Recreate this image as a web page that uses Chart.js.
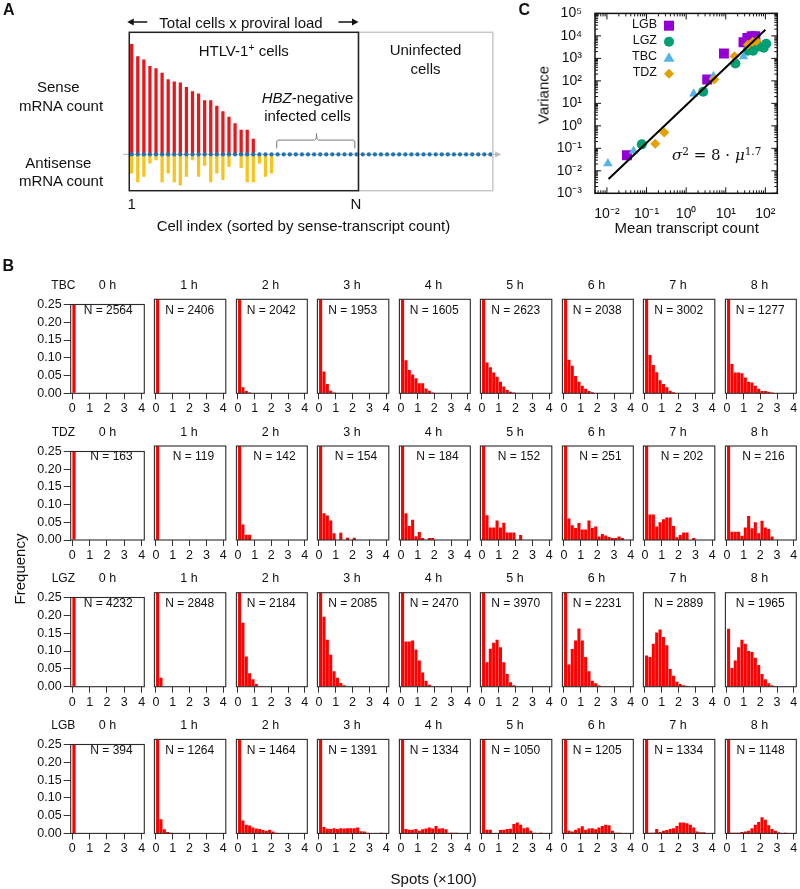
<!DOCTYPE html>
<html>
<head>
<meta charset="utf-8">
<script src="https://cdn.jsdelivr.net/npm/chart.js@4.4.0/dist/chart.umd.min.js"></script>
<style>
  html, body { margin: 0; padding: 0; background: #fff; }
  #fig { position: relative; width: 800px; height: 889px; overflow: hidden;
         font-family: Arial, "Liberation Sans", sans-serif; color: #111; }
  #fig canvas { position: absolute; }
  .t { position: absolute; white-space: nowrap; line-height: 1; transform: translate(-50%, -50%); }
  .t sup { font-size: 0.7em; vertical-align: 0.45em; line-height: 0; }
</style>
</head>
<body>
<div id="fig"></div>
<script>
// ---------- panel A: schematic counts (arbitrary units) ----------
const senseCounts = [100, 89, 86, 80, 78, 74, 68, 66, 65, 61, 57, 55, 49, 49, 44, 39, 34, 28, 22, 22, 14];
const antisenseCounts = [-17, -25, -20, -8, -5, -25, -17, -25, -28, -20, -5, -20, -10, -25, -17, -23, -11, 0, -12, -25, -25, -8, -20, -17];
const infectedCells = 37;
const allCells = 60;

// ---------- panel B: histograms ----------
const lines = ['TBC', 'TDZ', 'LGZ', 'LGB'];
const hours = ['0 h', '1 h', '2 h', '3 h', '4 h', '5 h', '6 h', '7 h', '8 h'];
const binCenters = [0.1, 0.3, 0.5, 0.7, 0.9, 1.1, 1.3, 1.5, 1.7, 1.9, 2.1, 2.3, 2.5, 2.7, 2.9, 3.1, 3.3, 3.5, 3.7, 3.9];
const spotTicks = [0, 1, 2, 3, 4];
const freqTicks = [0, 0.05, 0.10, 0.15, 0.20, 0.25];

const nTBC = [2564, 2406, 2042, 1953, 1605, 2623, 2038, 3002, 1277];
const nTDZ = [163, 119, 142, 154, 184, 152, 251, 202, 216];
const nLGZ = [4232, 2848, 2184, 2085, 2470, 3970, 2231, 2889, 1965];
const nLGB = [394, 1264, 1464, 1391, 1334, 1050, 1205, 1334, 1148];

const histTBC = [
  [0.99],
  [0.98],
  [0.97, 0.016, 0.006, 0.002],
  [0.90, 0.058, 0.025, 0.007, 0.002],
  [0.69, 0.088, 0.062, 0.050, 0.040, 0.027, 0.027, 0.013, 0.007, 0.002],
  [0.68, 0.082, 0.069, 0.055, 0.044, 0.031, 0.018, 0.009, 0.004, 0.002],
  [0.72, 0.089, 0.073, 0.046, 0.031, 0.020, 0.012, 0.006, 0.003],
  [0.68, 0.102, 0.075, 0.056, 0.035, 0.025, 0.016, 0.007, 0.003],
  [0.60, 0.078, 0.055, 0.055, 0.053, 0.042, 0.031, 0.029, 0.020, 0.012, 0.006, 0.006, 0.004, 0.002]
];
const histTDZ = [
  [0.99],
  [0.99],
  [0.93, 0.041, 0.014, 0.014],
  [0.76, 0.071, 0.065, 0.052, 0.018, 0, 0.019, 0, 0.006, 0, 0.006],
  [0.77, 0.071, 0.037, 0.054, 0.010, 0.021, 0.005, 0, 0.005, 0.005],
  [0.70, 0.066, 0.033, 0.033, 0.052, 0.033, 0.046, 0.020, 0.020, 0.020, 0, 0.013],
  [0.60, 0.057, 0.039, 0.032, 0.045, 0.028, 0.028, 0.052, 0.032, 0.036, 0.009, 0.016, 0.012, 0.008, 0.005, 0.005, 0.009, 0.005],
  [0.45, 0.068, 0.068, 0.036, 0.047, 0.055, 0.060, 0.060, 0.037, 0.007, 0.013, 0.020, 0.020, 0, 0.005],
  [0.60, 0.022, 0.022, 0.022, 0.011, 0.033, 0.064, 0.031, 0.047, 0.018, 0.051, 0.033, 0.029, 0.009]
];
const histLGZ = [
  [0.99],
  [0.97, 0.024],
  [0.72, 0.170, 0.080, 0.036, 0.020, 0.007],
  [0.52, 0.186, 0.125, 0.085, 0.041, 0.024, 0.010, 0.004],
  [0.40, 0.120, 0.120, 0.123, 0.099, 0.070, 0.038, 0.016, 0.005],
  [0.35, 0.065, 0.101, 0.117, 0.125, 0.105, 0.065, 0.034, 0.012, 0.004],
  [0.30, 0.059, 0.100, 0.123, 0.155, 0.123, 0.079, 0.041, 0.016, 0.009, 0.003],
  [0.083, 0.079, 0.114, 0.144, 0.152, 0.132, 0.110, 0.047, 0.029, 0.013, 0.007, 0.004, 0.002],
  [0.154, 0.050, 0.070, 0.105, 0.125, 0.114, 0.095, 0.092, 0.077, 0.058, 0.034, 0.020, 0.009, 0.004, 0.002]
];
const histLGB = [
  [0.99],
  [0.94, 0.0375, 0.011, 0.004, 0.002],
  [0.84, 0.034, 0.023, 0.021, 0.016, 0.013, 0.012, 0.009, 0.007, 0.010, 0.005, 0.002],
  [0.82, 0.017, 0.0125, 0.0115, 0.014, 0.0115, 0.014, 0.013, 0.014, 0.014, 0.014, 0.016, 0.006, 0.005, 0.002, 0, 0, 0, 0.002],
  [0.82, 0.012, 0.010, 0.010, 0.012, 0.007, 0.011, 0.013, 0.016, 0.013, 0.020, 0.013, 0.014, 0.011, 0.002, 0.002, 0.002],
  [0.79, 0.010, 0.010, 0.001, 0, 0.009, 0.010, 0.012, 0.0125, 0.025, 0.029, 0.023, 0.014, 0.016, 0.007, 0.002, 0, 0.002],
  [0.80, 0.007, 0.005, 0.010, 0.014, 0.019, 0.010, 0.013, 0.014, 0.011, 0.016, 0.020, 0.023, 0.022, 0.007, 0.002, 0.002],
  [0.80, 0.002, 0.002, 0.012, 0.004, 0.007, 0.009, 0.012, 0.014, 0.020, 0.029, 0.029, 0.027, 0.023, 0.016, 0.005, 0.003, 0.003],
  [0.80, 0.002, 0.002, 0.002, 0.004, 0.005, 0.007, 0.014, 0.023, 0.030, 0.043, 0.036, 0.022, 0.012, 0.007, 0.003, 0, 0.002]
];

// ---------- panel C: mean vs variance ----------
const meanLGB = [0.032, 3.4, 9, 28, 35, 45, 56];
const varLGB  = [0.049, 115, 1650, 5200, 8000, 9800, 9800];
const meanLGZ = [0.076, 2.7, 17.5, 36, 49, 68, 91, 105];
const varLGZ  = [0.15, 33, 590, 2200, 2200, 3400, 3000, 4500];
const meanTBC = [0.0106, 0.047, 1.55, 4.9, 28];
const varTBC  = [0.021, 0.076, 27, 160, 1200];
const meanTDZ = [0.166, 0.28, 5.1, 16.6, 36, 48, 60];
const varTDZ  = [0.16, 0.51, 115, 1230, 4000, 5500, 6000];
const fitMean = [0.011, 100];
const fitVar  = [0.0043, 18600];
const meanTicks = [0.01, 0.1, 1, 10, 100];
const varTicks = [1e-3, 1e-2, 1e-1, 1, 10, 100, 1e3, 1e4, 1e5];

// ---------- helpers ----------
const FONT = 'Arial, "Liberation Sans", sans-serif';
Chart.defaults.font.family = FONT;
Chart.defaults.color = '#111';
const fig = document.getElementById('fig');

function addCanvas(x, y, w, h) {
  const c = document.createElement('canvas');
  c.width = w; c.height = h;
  c.style.left = x + 'px'; c.style.top = y + 'px';
  c.style.width = w + 'px'; c.style.height = h + 'px';
  fig.appendChild(c);
  return c;
}
function label(html, x, y, css) {
  const d = document.createElement('div');
  d.className = 't';
  d.innerHTML = html;
  d.style.left = x + 'px'; d.style.top = y + 'px';
  if (css) d.style.cssText += css;
  fig.appendChild(d);
  return d;
}
const SUP = { '-': '\u207b', '0': '\u2070', '1': '\u00b9', '2': '\u00b2', '3': '\u00b3', '4': '\u2074',
              '5': '\u2075', '6': '\u2076', '7': '\u2077', '8': '\u2078', '9': '\u2079' };
const pow10Label = v => '10' + String(Math.round(Math.log10(v))).split('').map(c => SUP[c]).join('');

const framePlugin = {
  id: 'frame',
  afterDatasetsDraw(chart, args, opts) {
    const { ctx, chartArea: a } = chart;
    ctx.save();
    ctx.strokeStyle = opts.color || '#222';
    ctx.lineWidth = opts.width || 1;
    ctx.strokeRect(a.left, a.top, a.right - a.left, a.bottom - a.top);
    ctx.restore();
  }
};

// ---------- panel A ----------
(function () {
  const W = 510, H = 240;
  const cv = addCanvas(0, 0, W, H);
  const unitX = 6.08, x0 = 131.7, xmin = -1.6, xmax = 61;
  const left = x0 + xmin * unitX, right = x0 + xmax * unitX;

  function arrowHead(ctx, x, y, dir, len, half) {
    ctx.beginPath();
    ctx.moveTo(x, y);
    ctx.lineTo(x - dir * len, y - half);
    ctx.lineTo(x - dir * len, y + half);
    ctx.closePath();
    ctx.fill();
  }

  const schematic = {
    id: 'schematic',
    beforeDatasetsDraw(chart) {
      const { ctx, scales: { x, y } } = chart;
      const py = y.getPixelForValue(0);
      const xa = x.getPixelForValue(-1.4), xb = x.getPixelForValue(60.6);
      ctx.save();
      ctx.strokeStyle = '#bdbdbd'; ctx.fillStyle = '#bdbdbd'; ctx.lineWidth = 1.2;
      ctx.beginPath(); ctx.moveTo(xa, py); ctx.lineTo(xb - 4, py); ctx.stroke();
      arrowHead(ctx, xb + 1, py, 1, 6, 3.2);
      ctx.restore();
    },
    afterDatasetsDraw(chart) {
      const { ctx, chartArea: a, scales: { x, y } } = chart;
      const bl = x.getPixelForValue(-0.4), br = x.getPixelForValue(infectedCells + 0.3);
      const gr = x.getPixelForValue(allCells - 0.6);
      ctx.save();
      ctx.lineWidth = 1.5;
      ctx.strokeStyle = '#c8c8c8';
      ctx.strokeRect(br, a.top, gr - br, a.bottom - a.top);
      ctx.strokeStyle = '#222';
      ctx.strokeRect(bl, a.top, br - bl, a.bottom - a.top);

      // top double arrow
      const ty = a.top - 10.3;
      ctx.fillStyle = '#111'; ctx.strokeStyle = '#111'; ctx.lineWidth = 1.5;
      ctx.beginPath(); ctx.moveTo(bl + 2, ty); ctx.lineTo(bl + 18, ty); ctx.stroke();
      arrowHead(ctx, bl - 2, ty, -1, 6.5, 3.5);
      ctx.beginPath(); ctx.moveTo(br - 20, ty); ctx.lineTo(br - 4, ty); ctx.stroke();
      arrowHead(ctx, br, ty, 1, 6.5, 3.5);

      // brace over HBZ-negative cells
      const x1 = x.getPixelForValue(23.85), x2 = x.getPixelForValue(36.7), xm = x.getPixelForValue(30.4);
      const yb = y.getPixelForValue(5.5), yt = y.getPixelForValue(13), yp = y.getPixelForValue(19);
      ctx.strokeStyle = '#777'; ctx.lineWidth = 1;
      ctx.beginPath();
      ctx.moveTo(x1, yb); ctx.lineTo(x1, yt + 2); ctx.quadraticCurveTo(x1, yt, x1 + 2, yt);
      ctx.lineTo(xm - 2, yt); ctx.quadraticCurveTo(xm, yt, xm, yp);
      ctx.quadraticCurveTo(xm, yt, xm + 2, yt);
      ctx.lineTo(x2 - 2, yt); ctx.quadraticCurveTo(x2, yt, x2, yt + 2); ctx.lineTo(x2, yb);
      ctx.stroke();
      ctx.restore();
    }
  };

  const cells = Array.from({ length: allCells }, (_, i) => ({ x: i, y: 0 }));
  new Chart(cv, {
    type: 'bar',
    data: {
      datasets: [
        { type: 'scatter', data: cells, pointRadius: 2.1, pointBorderWidth: 0,
          backgroundColor: '#1f74b6', order: 0 },
        { data: senseCounts.map((v, i) => ({ x: i, y: v })), backgroundColor: '#e8171c',
          barThickness: 2.6, grouped: false, order: 1 },
        { data: antisenseCounts.map((v, i) => ({ x: i, y: v })), backgroundColor: '#f7c31c',
          barThickness: 2.6, grouped: false, order: 2 }
      ]
    },
    options: {
      responsive: false, animation: false, events: [],
      layout: { padding: { left: left, right: W - right, top: 32.3, bottom: H - 190.7 } },
      plugins: { legend: { display: false }, tooltip: { enabled: false } },
      scales: {
        x: { type: 'linear', display: false, min: xmin, max: xmax, offset: false, grid: { offset: false } },
        y: { display: false, min: -33, max: 111 }
      }
    },
    plugins: [schematic]
  });

  label('A', 8.8, 10.3, 'font-weight:bold;font-size:16px;');
  label('Total cells x proviral load', 241, 22, 'font-size:15px;');
  label('HTLV-1<sup>+</sup> cells', 243.7, 49.5, 'font-size:15px;');
  label('Uninfected', 425.5, 49.3, 'font-size:15px;');
  label('cells', 425.5, 68.3, 'font-size:15px;');
  label('Sense', 58.3, 86, 'font-size:15px;');
  label('mRNA count', 61, 105, 'font-size:15px;');
  label('Antisense', 58.3, 162, 'font-size:15px;');
  label('mRNA count', 61, 180.3, 'font-size:15px;');
  label('<i>HBZ</i>-negative', 307.5, 96.7, 'font-size:15px;');
  label('infected cells', 307.5, 115, 'font-size:15px;');
  label('1', 131.7, 202.7, 'font-size:15px;');
  label('N', 356, 202.7, 'font-size:15px;');
  label('Cell index (sorted by sense-transcript count)', 156.7, 225, 'font-size:15px;transform:translate(0,-50%);');
})();

// ---------- panel B ----------
function histChart(row, col, values, n) {
  const boxL = 70.7 + 81.5 * col, boxT = 299.3 + 146.7 * row, boxW = 73.6, boxH = 94;
  const first = col === 0;
  const left = Math.floor(boxL - (first ? 62 : 2));
  const top = Math.floor(boxT - 4);
  const W = Math.ceil(boxL - left + boxW + 6);
  const H = Math.ceil(boxT - top + boxH + 26);
  const cv = addCanvas(left, top, W, H);
  const freqs = binCenters.map((_, i) => values[i] || 0);
  new Chart(cv, {
    type: 'bar',
    data: {
      labels: binCenters,
      datasets: [{ data: freqs, backgroundColor: '#ff0000', borderWidth: 0,
                   barPercentage: 0.92, categoryPercentage: 1, clip: 0 }]
    },
    options: {
      responsive: false, animation: false, events: [],
      layout: { padding: { left: first ? 0 : boxL - left, top: boxT - top,
                           right: W - (boxL - left) - boxW, bottom: 0 } },
      plugins: { legend: { display: false }, tooltip: { enabled: false },
                 frame: { color: '#2a2a2a', width: 1.1 } },
      scales: {
        x: {
          type: 'linear', min: -0.09, max: 4.15, offset: false,
          afterBuildTicks: s => { s.ticks = spotTicks.map(v => ({ value: v })); },
          afterFit: s => { s.height = H - (boxT - top) - boxH; },
          grid: { offset: false, drawOnChartArea: false, tickLength: 6, color: '#333' },
          border: { display: false },
          ticks: { padding: 2, font: { size: 12.5 }, color: '#111', maxRotation: 0, autoSkip: false }
        },
        y: {
          display: first, min: 0, max: 0.25,
          afterBuildTicks: s => { s.ticks = freqTicks.map(v => ({ value: v })); },
          afterFit: s => { s.width = boxL - left; },
          grid: { drawOnChartArea: false, tickLength: 7, color: '#333' },
          border: { display: false },
          ticks: { padding: 2, font: { size: 12.5 }, color: '#111', autoSkip: false,
                   callback: v => Number(v).toFixed(2) }
        }
      }
    },
    plugins: [framePlugin]
  });
  label(hours[col], boxL + boxW / 2, boxT - 14.5, 'font-size:12.5px;');
  label('N = ' + n, boxL + boxW - 11.6, boxT + 10.3, 'font-size:12px;transform:translate(-100%,-50%);');
  if (first) label(lines[row], 63.3, boxT - 14.5, 'font-size:12px;');
}

const histByLine = [histTBC, histTDZ, histLGZ, histLGB];
const nByLine = [nTBC, nTDZ, nLGZ, nLGB];
lines.forEach((ln, r) => hours.forEach((h, c) => histChart(r, c, histByLine[r][c], nByLine[r][c])));

label('B', 8.3, 266, 'font-weight:bold;font-size:16px;');
label('Frequency', 19, 569, 'font-size:15px;transform:translate(-50%,-50%) rotate(-90deg);');
label('Spots (\u00d7100)', 433.7, 878, 'font-size:15px;');

// ---------- panel C ----------
(function () {
  const W = 260, H = 232;
  const cv = addCanvas(540, 0, W, H);
  const boxL = 595 - 540, boxT = 11.7, boxR = 777.3 - 540, boxB = 193.3;

  const styles = [
    { name: 'LGB', shape: 'rect', color: '#9400d3' },
    { name: 'LGZ', shape: 'circle', color: '#009e73' },
    { name: 'TBC', shape: 'triangle', color: '#56b4e9' },
    { name: 'TDZ', shape: 'rectRot', color: '#e69f00' }
  ];

  const logFrame = {
    id: 'logFrame',
    afterDatasetsDraw(chart) {
      const { ctx, chartArea: a, scales: { x, y } } = chart;
      ctx.save();
      ctx.strokeStyle = '#111'; ctx.lineWidth = 1;
      ctx.beginPath();
      for (let d = Math.floor(Math.log10(x.min)); d <= Math.ceil(Math.log10(x.max)); d++) {
        for (let m = 1; m < 10; m++) {
          const v = m * Math.pow(10, d);
          if (v < x.min || v > x.max) continue;
          const px = x.getPixelForValue(v), len = m === 1 ? 6 : 3;
          ctx.moveTo(px, a.bottom); ctx.lineTo(px, a.bottom - len);
          ctx.moveTo(px, a.top); ctx.lineTo(px, a.top + len);
        }
      }
      for (let d = Math.floor(Math.log10(y.min)); d <= Math.ceil(Math.log10(y.max)); d++) {
        for (let m = 1; m < 10; m++) {
          const v = m * Math.pow(10, d);
          if (v < y.min * 0.999 || v > y.max * 1.001) continue;
          const py = y.getPixelForValue(v), len = m === 1 ? 6 : 3;
          ctx.moveTo(a.left, py); ctx.lineTo(a.left + len, py);
          ctx.moveTo(a.right, py); ctx.lineTo(a.right - len, py);
        }
      }
      ctx.stroke();
      ctx.lineWidth = 1.5;
      ctx.strokeRect(a.left, a.top, a.right - a.left, a.bottom - a.top);

      // legend markers
      const mx = a.left + 74;
      styles.forEach((s, k) => {
        const my = a.top + 12.3 + 16 * k;
        ctx.fillStyle = s.color;
        ctx.beginPath();
        if (s.shape === 'rect') ctx.rect(mx - 5, my - 5, 10, 10);
        else if (s.shape === 'circle') ctx.arc(mx, my, 5, 0, Math.PI * 2);
        else if (s.shape === 'triangle') { ctx.moveTo(mx, my - 5.5); ctx.lineTo(mx + 5.5, my + 4); ctx.lineTo(mx - 5.5, my + 4); ctx.closePath(); }
        else { ctx.moveTo(mx, my - 5); ctx.lineTo(mx + 5, my); ctx.lineTo(mx, my + 5); ctx.lineTo(mx - 5, my); ctx.closePath(); }
        ctx.fill();
      });
      ctx.restore();
    }
  };

  const pts = (xs, ys) => xs.map((v, i) => ({ x: v, y: ys[i] }));

  new Chart(cv, {
    type: 'scatter',
    data: {
      datasets: [
        { type: 'line', data: pts(fitMean, fitVar), borderColor: '#000', borderWidth: 2,
          pointRadius: 0, order: 0 },
        { label: 'TDZ', data: pts(meanTDZ, varTDZ), pointStyle: 'rectRot', pointRadius: 5,
          backgroundColor: '#e69f00', pointBorderWidth: 0, order: 1 },
        { label: 'TBC', data: pts(meanTBC, varTBC), pointStyle: 'triangle', pointRadius: 5.5,
          backgroundColor: '#56b4e9', pointBorderWidth: 0, order: 2 },
        { label: 'LGZ', data: pts(meanLGZ, varLGZ), pointStyle: 'circle', pointRadius: 5,
          backgroundColor: '#009e73', pointBorderWidth: 0, order: 3 },
        { label: 'LGB', data: pts(meanLGB, varLGB), pointStyle: 'rect', pointRadius: 7,
          backgroundColor: '#9400d3', pointBorderWidth: 0, order: 4 }
      ]
    },
    options: {
      responsive: false, animation: false, events: [],
      layout: { padding: { left: 0, top: boxT, right: W - boxR, bottom: 0 } },
      plugins: { legend: { display: false }, tooltip: { enabled: false } },
      scales: {
        x: {
          type: 'logarithmic', min: 0.005, max: 200,
          afterBuildTicks: s => { s.ticks = meanTicks.map(v => ({ value: v })); },
          afterFit: s => { s.height = H - boxB; },
          grid: { display: false }, border: { display: false },
          ticks: { padding: 4, font: { size: 14 }, color: '#111', maxRotation: 0, autoSkip: false,
                   callback: v => pow10Label(v) }
        },
        y: {
          type: 'logarithmic', min: 1e-3, max: 1e5,
          afterBuildTicks: s => { s.ticks = varTicks.map(v => ({ value: v })); },
          afterFit: s => { s.width = boxL; },
          grid: { display: false }, border: { display: false },
          ticks: { padding: 5, font: { size: 14 }, color: '#111', autoSkip: false,
                   callback: v => pow10Label(v) }
        }
      }
    },
    plugins: [logFrame]
  });

  label('C', 524.3, 9.5, 'font-weight:bold;font-size:16px;');
  styles.forEach((s, k) => label(s.name, 657, 24 + 16 * k, 'font-size:12.5px;transform:translate(-100%,-50%);'));
  label('Variance', 543, 95, 'font-size:15px;transform:translate(-50%,-50%) rotate(-90deg);');
  label('Mean transcript count', 686.7, 227, 'font-size:15px;');
  label('<i>\u03c3</i><sup>2</sup> = 8 \u00b7 <i>\u03bc</i><sup>1.7</sup>', 716.7, 155,
        'font-size:15px;font-family:"DejaVu Serif","Liberation Serif",serif;');
})();
</script>
</body>
</html>
